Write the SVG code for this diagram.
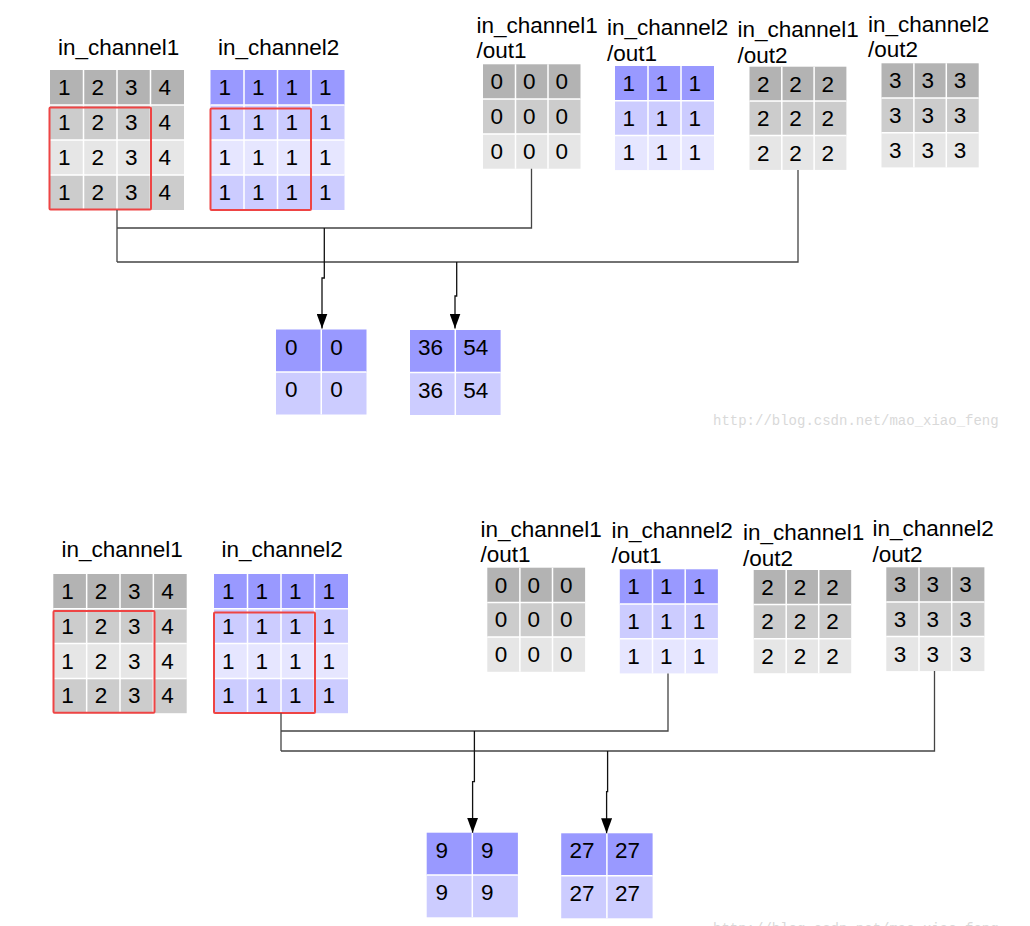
<svg xmlns="http://www.w3.org/2000/svg" width="1030" height="926" viewBox="0 0 1030 926">
<style>
text{font-family:"Liberation Sans",Arial,sans-serif;font-size:22.5px;fill:#000}
.g1{fill:#b3b3b3}.g2{fill:#cccccc}.g3{fill:#e6e6e6}
.p1{fill:#9999ff}.p2{fill:#ccccff}.p3{fill:#e6e6ff}
.sep{stroke:#ffffff;stroke-width:1.5;fill:none}
.red{fill:none;stroke:#ee4444;stroke-width:2}
.ln{fill:none;stroke:#444;stroke-width:1.3}
.ar{fill:none;stroke:#111;stroke-width:1.3}
.wm{font-family:"Liberation Mono","DejaVu Sans Mono",monospace;font-size:14px;fill:#d9d9d9}
</style>
<defs>
<marker id="ah" viewBox="0 0 15 11" refX="15" refY="5.5" markerWidth="15" markerHeight="11" orient="auto" markerUnits="userSpaceOnUse"><path d="M0,0 L15,5.5 L0,11 z" fill="#000"/></marker>
</defs>

<!-- ===== TOP ===== -->
<g id="top-in1">
<text x="58" y="55">in_channel1</text>
<rect class="g1" x="50" y="70" width="134" height="35"/>
<rect class="g2" x="50" y="105" width="134" height="35"/>
<rect class="g3" x="50" y="140" width="134" height="35"/>
<rect class="g2" x="50" y="175" width="134" height="35"/>
<path class="sep" d="M83.5,70V210M117,70V210M150.5,70V210M50,105H184M50,140H184M50,175H184"/>
<text x="58" y="95">1</text><text x="91.5" y="95">2</text><text x="125" y="95">3</text><text x="158.5" y="95">4</text>
<text x="58" y="130">1</text><text x="91.5" y="130">2</text><text x="125" y="130">3</text><text x="158.5" y="130">4</text>
<text x="58" y="165">1</text><text x="91.5" y="165">2</text><text x="125" y="165">3</text><text x="158.5" y="165">4</text>
<text x="58" y="200">1</text><text x="91.5" y="200">2</text><text x="125" y="200">3</text><text x="158.5" y="200">4</text>
<rect class="red" x="49.5" y="107.5" width="101.5" height="102" rx="1"/>
</g>

<g id="top-in2">
<text x="218" y="55">in_channel2</text>
<rect class="p1" x="210.5" y="70" width="134" height="35"/>
<rect class="p2" x="210.5" y="105" width="134" height="35"/>
<rect class="p3" x="210.5" y="140" width="134" height="35"/>
<rect class="p2" x="210.5" y="175" width="134" height="35"/>
<path class="sep" d="M244,70V210M277.5,70V210M311,70V210M210.5,105H344.5M210.5,140H344.5M210.5,175H344.5"/>
<text x="218.5" y="95">1</text><text x="252" y="95">1</text><text x="285.5" y="95">1</text><text x="319" y="95">1</text>
<text x="218.5" y="130">1</text><text x="252" y="130">1</text><text x="285.5" y="130">1</text><text x="319" y="130">1</text>
<text x="218.5" y="165">1</text><text x="252" y="165">1</text><text x="285.5" y="165">1</text><text x="319" y="165">1</text>
<text x="218.5" y="200">1</text><text x="252" y="200">1</text><text x="285.5" y="200">1</text><text x="319" y="200">1</text>
<rect class="red" x="210.5" y="108.5" width="100.5" height="101.5" rx="1"/>
</g>

<g id="top-k11">
<text x="476.5" y="32.7">in_channel1</text><text x="476.5" y="58">/out1</text>
<rect class="g1" x="483" y="64.3" width="97.5" height="34.8"/>
<rect class="g2" x="483" y="99.1" width="97.5" height="34.8"/>
<rect class="g3" x="483" y="133.9" width="97.5" height="34.8"/>
<path class="sep" d="M515.5,64.3V168.7M548,64.3V168.7M483,99.1H580.5M483,133.9H580.5"/>
<text x="490.5" y="89.3">0</text><text x="523" y="89.3">0</text><text x="555.5" y="89.3">0</text>
<text x="490.5" y="124.1">0</text><text x="523" y="124.1">0</text><text x="555.5" y="124.1">0</text>
<text x="490.5" y="158.9">0</text><text x="523" y="158.9">0</text><text x="555.5" y="158.9">0</text>
</g>

<g id="top-k21">
<text x="607" y="35">in_channel2</text><text x="607" y="60.7">/out1</text>
<rect class="p1" x="615" y="66" width="99" height="34.7"/>
<rect class="p2" x="615" y="100.7" width="99" height="34.7"/>
<rect class="p3" x="615" y="135.4" width="99" height="34.7"/>
<path class="sep" d="M648,66V170.1M681,66V170.1M615,100.7H714M615,135.4H714"/>
<text x="622.5" y="91">1</text><text x="655.5" y="91">1</text><text x="688.5" y="91">1</text>
<text x="622.5" y="125.7">1</text><text x="655.5" y="125.7">1</text><text x="688.5" y="125.7">1</text>
<text x="622.5" y="160.4">1</text><text x="655.5" y="160.4">1</text><text x="688.5" y="160.4">1</text>
</g>

<g id="top-k12">
<text x="737.5" y="36.7">in_channel1</text><text x="737.5" y="62.7">/out2</text>
<rect class="g1" x="749.5" y="66.7" width="96.9" height="34.4"/>
<rect class="g2" x="749.5" y="101.1" width="96.9" height="34.4"/>
<rect class="g3" x="749.5" y="135.5" width="96.9" height="34.4"/>
<path class="sep" d="M781.8,66.7V169.9M814.1,66.7V169.9M749.5,101.1H846.4M749.5,135.5H846.4"/>
<text x="757" y="91.7">2</text><text x="789.3" y="91.7">2</text><text x="821.6" y="91.7">2</text>
<text x="757" y="126.1">2</text><text x="789.3" y="126.1">2</text><text x="821.6" y="126.1">2</text>
<text x="757" y="160.5">2</text><text x="789.3" y="160.5">2</text><text x="821.6" y="160.5">2</text>
</g>

<g id="top-k22">
<text x="868" y="31.7">in_channel2</text><text x="868" y="56.7">/out2</text>
<rect class="g1" x="881.5" y="63.3" width="97.2" height="34.7"/>
<rect class="g2" x="881.5" y="98" width="97.2" height="34.7"/>
<rect class="g3" x="881.5" y="132.7" width="97.2" height="34.7"/>
<path class="sep" d="M913.9,63.3V167.4M946.3,63.3V167.4M881.5,98H978.7M881.5,132.7H978.7"/>
<text x="889" y="88.3">3</text><text x="921.4" y="88.3">3</text><text x="953.8" y="88.3">3</text>
<text x="889" y="123">3</text><text x="921.4" y="123">3</text><text x="953.8" y="123">3</text>
<text x="889" y="157.7">3</text><text x="921.4" y="157.7">3</text><text x="953.8" y="157.7">3</text>
</g>

<g id="top-out1">
<rect class="p1" x="276" y="329.5" width="90.5" height="42.5"/>
<rect class="p2" x="276" y="372" width="90.5" height="42.5"/>
<path class="sep" d="M321.25,329.5V414.5M276,372H366.5"/>
<text x="285" y="354.5">0</text><text x="330.25" y="354.5">0</text>
<text x="285" y="397">0</text><text x="330.25" y="397">0</text>
</g>

<g id="top-out2">
<rect class="p1" x="410" y="330" width="90.6" height="42.5"/>
<rect class="p2" x="410" y="372.5" width="90.6" height="42.5"/>
<path class="sep" d="M455.3,330V415M410,372.5H500.6"/>
<text x="418" y="355">36</text><text x="463.3" y="355">54</text>
<text x="418" y="397.5">36</text><text x="463.3" y="397.5">54</text>
</g>

<g id="top-connectors">
<path class="ln" d="M117,210V262M117,228H531.5V168.7M117,262H798V170"/>
<path class="ar" d="M324.3,228V278H322V328.5" marker-end="url(#ah)"/>
<path class="ar" d="M456.7,262V296H455V328.5" marker-end="url(#ah)"/>
</g>

<text class="wm" x="713" y="425">http://blog.csdn.net/mao_xiao_feng</text>

<!-- ===== BOTTOM ===== -->
<g id="bot-in1">
<text x="61.5" y="557.3">in_channel1</text>
<rect class="g1" x="53.3" y="574" width="133.4" height="34.8"/>
<rect class="g2" x="53.3" y="608.8" width="133.4" height="34.8"/>
<rect class="g3" x="53.3" y="643.6" width="133.4" height="34.8"/>
<rect class="g2" x="53.3" y="678.4" width="133.4" height="34.8"/>
<path class="sep" d="M86.65,574V713.2M120,574V713.2M153.35,574V713.2M53.3,608.8H186.7M53.3,643.6H186.7M53.3,678.4H186.7"/>
<text x="61.3" y="599">1</text><text x="94.65" y="599">2</text><text x="128" y="599">3</text><text x="161.35" y="599">4</text>
<text x="61.3" y="633.8">1</text><text x="94.65" y="633.8">2</text><text x="128" y="633.8">3</text><text x="161.35" y="633.8">4</text>
<text x="61.3" y="668.6">1</text><text x="94.65" y="668.6">2</text><text x="128" y="668.6">3</text><text x="161.35" y="668.6">4</text>
<text x="61.3" y="703.4">1</text><text x="94.65" y="703.4">2</text><text x="128" y="703.4">3</text><text x="161.35" y="703.4">4</text>
<rect class="red" x="53.5" y="611" width="101" height="101.7" rx="1"/>
</g>

<g id="bot-in2">
<text x="221.5" y="557">in_channel2</text>
<rect class="p1" x="214" y="574" width="134" height="34.8"/>
<rect class="p2" x="214" y="608.8" width="134" height="34.8"/>
<rect class="p3" x="214" y="643.6" width="134" height="34.8"/>
<rect class="p2" x="214" y="678.4" width="134" height="34.8"/>
<path class="sep" d="M247.5,574V713.2M281,574V713.2M314.5,574V713.2M214,608.8H348M214,643.6H348M214,678.4H348"/>
<text x="222" y="599">1</text><text x="255.5" y="599">1</text><text x="289" y="599">1</text><text x="322.5" y="599">1</text>
<text x="222" y="633.8">1</text><text x="255.5" y="633.8">1</text><text x="289" y="633.8">1</text><text x="322.5" y="633.8">1</text>
<text x="222" y="668.6">1</text><text x="255.5" y="668.6">1</text><text x="289" y="668.6">1</text><text x="322.5" y="668.6">1</text>
<text x="222" y="703.4">1</text><text x="255.5" y="703.4">1</text><text x="289" y="703.4">1</text><text x="322.5" y="703.4">1</text>
<rect class="red" x="214" y="612.5" width="101" height="100.5" rx="1"/>
</g>

<g id="bot-k11">
<text x="480.5" y="536.7">in_channel1</text><text x="480.5" y="561.7">/out1</text>
<rect class="g1" x="487.3" y="567.7" width="97.8" height="34.7"/>
<rect class="g2" x="487.3" y="602.4" width="97.8" height="34.7"/>
<rect class="g3" x="487.3" y="637.1" width="97.8" height="34.7"/>
<path class="sep" d="M519.9,567.7V671.8M552.5,567.7V671.8M487.3,602.4H585.1M487.3,637.1H585.1"/>
<text x="494.8" y="592.7">0</text><text x="527.4" y="592.7">0</text><text x="560" y="592.7">0</text>
<text x="494.8" y="627.4">0</text><text x="527.4" y="627.4">0</text><text x="560" y="627.4">0</text>
<text x="494.8" y="662.1">0</text><text x="527.4" y="662.1">0</text><text x="560" y="662.1">0</text>
</g>

<g id="bot-k21">
<text x="611.5" y="538.3">in_channel2</text><text x="611.5" y="563.3">/out1</text>
<rect class="p1" x="619.8" y="569.3" width="98.1" height="34.7"/>
<rect class="p2" x="619.8" y="604" width="98.1" height="34.7"/>
<rect class="p3" x="619.8" y="638.7" width="98.1" height="34.7"/>
<path class="sep" d="M652.5,569.3V673.4M685.2,569.3V673.4M619.8,604H717.9M619.8,638.7H717.9"/>
<text x="627.3" y="594.3">1</text><text x="660" y="594.3">1</text><text x="692.7" y="594.3">1</text>
<text x="627.3" y="629">1</text><text x="660" y="629">1</text><text x="692.7" y="629">1</text>
<text x="627.3" y="663.7">1</text><text x="660" y="663.7">1</text><text x="692.7" y="663.7">1</text>
</g>

<g id="bot-k12">
<text x="743" y="540">in_channel1</text><text x="743" y="566">/out2</text>
<rect class="g1" x="753.7" y="570" width="97.5" height="34.4"/>
<rect class="g2" x="753.7" y="604.4" width="97.5" height="34.4"/>
<rect class="g3" x="753.7" y="638.8" width="97.5" height="34.4"/>
<path class="sep" d="M786.2,570V673.2M818.7,570V673.2M753.7,604.4H851.2M753.7,638.8H851.2"/>
<text x="761.2" y="595">2</text><text x="793.7" y="595">2</text><text x="826.2" y="595">2</text>
<text x="761.2" y="629.4">2</text><text x="793.7" y="629.4">2</text><text x="826.2" y="629.4">2</text>
<text x="761.2" y="663.8">2</text><text x="793.7" y="663.8">2</text><text x="826.2" y="663.8">2</text>
</g>

<g id="bot-k22">
<text x="872.5" y="536">in_channel2</text><text x="872.5" y="561.7">/out2</text>
<rect class="g1" x="886.3" y="567.3" width="98.1" height="34.6"/>
<rect class="g2" x="886.3" y="601.9" width="98.1" height="34.6"/>
<rect class="g3" x="886.3" y="636.5" width="98.1" height="34.6"/>
<path class="sep" d="M919,567.3V671.1M951.7,567.3V671.1M886.3,601.9H984.4M886.3,636.5H984.4"/>
<text x="893.8" y="592.3">3</text><text x="926.5" y="592.3">3</text><text x="959.2" y="592.3">3</text>
<text x="893.8" y="626.9">3</text><text x="926.5" y="626.9">3</text><text x="959.2" y="626.9">3</text>
<text x="893.8" y="661.5">3</text><text x="926.5" y="661.5">3</text><text x="959.2" y="661.5">3</text>
</g>

<g id="bot-out1">
<rect class="p1" x="426.7" y="832.7" width="91.2" height="42.3"/>
<rect class="p2" x="426.7" y="875" width="91.2" height="42.3"/>
<path class="sep" d="M472.3,832.7V917.3M426.7,875H517.9"/>
<text x="435.5" y="857.7">9</text><text x="481" y="857.7">9</text>
<text x="435.5" y="900">9</text><text x="481" y="900">9</text>
</g>

<g id="bot-out2">
<rect class="p1" x="561.2" y="833.3" width="91.4" height="42.5"/>
<rect class="p2" x="561.2" y="875.8" width="91.4" height="42.5"/>
<path class="sep" d="M606.9,833.3V918.3M561.2,875.8H652.6"/>
<text x="569.5" y="858">27</text><text x="615" y="858">27</text>
<text x="569.5" y="900.5">27</text><text x="615" y="900.5">27</text>
</g>

<g id="bot-connectors">
<path class="ln" d="M281,713.2V751M281,731H668V673.4M281,751H934.5V671.1"/>
<path class="ar" d="M474.4,731V781.7H472.6V832.7" marker-end="url(#ah)"/>
<path class="ar" d="M607.6,751V791.7H606.6V833.3" marker-end="url(#ah)"/>
</g>

<text class="wm" x="713" y="933">http://blog.csdn.net/mao_xiao_feng</text>
</svg>
